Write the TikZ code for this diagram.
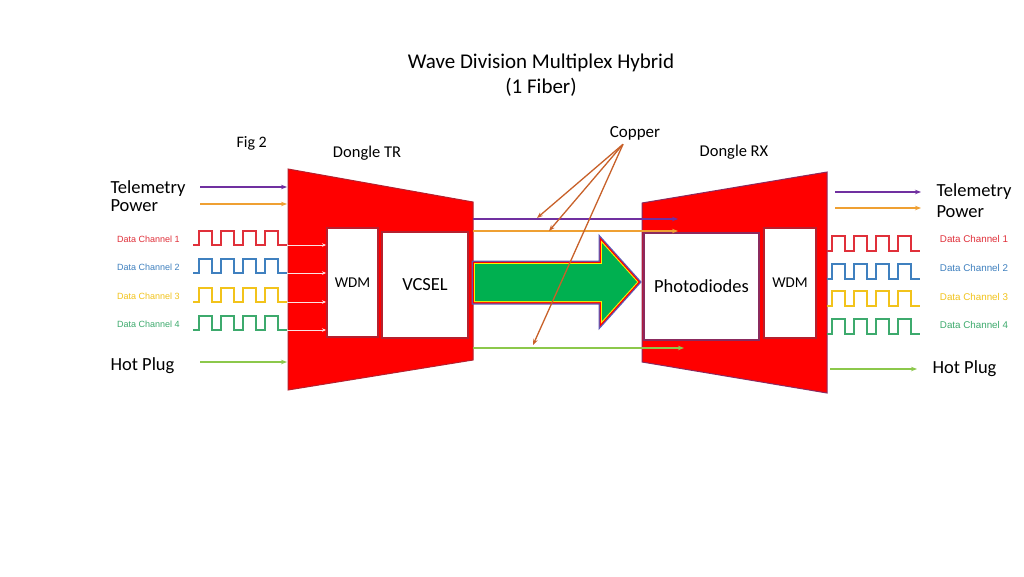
\documentclass[tikz,border=0pt]{standalone}
\usepackage{fontspec}
\setmainfont{Carlito}
\newfontfamily\arialfont{Liberation Sans}
\usetikzlibrary{arrows.meta}

\definecolor{dongred}{HTML}{FF0000}
\definecolor{boxedge}{HTML}{B5202E}
\definecolor{photoedge}{HTML}{8B2A5E}
\definecolor{telem}{HTML}{7030A0}
\definecolor{power}{HTML}{EFA033}
\definecolor{hotplug}{HTML}{8CC84B}
\definecolor{copper}{HTML}{C8612A}
\definecolor{chone}{HTML}{E0303A}
\definecolor{chtwo}{HTML}{3F80BF}
\definecolor{chthree}{HTML}{F2C31B}
\definecolor{chfour}{HTML}{3DAA6D}
\definecolor{fibergreen}{HTML}{00B050}
\definecolor{fiberblue}{HTML}{5E5AB8}
\definecolor{wirepink}{HTML}{FBE3E3}

\begin{document}
\begin{tikzpicture}[x=1pt, y=-1pt,
    boxnode/.style={draw=boxedge, line width=2pt, fill=white, inner sep=0pt},
    sig/.style={line width=1.4pt, -{Stealth[length=6pt, width=4.5pt]}},
    wave/.style={line width=1.2pt, line join=miter},
    chanlabel/.style={font=\arialfont\fontsize{9}{11}\selectfont},
    biglabel/.style={font=\fontsize{18.5}{22}\selectfont, anchor=base west},
    midlabel/.style={font=\fontsize{16.5}{20}\selectfont, anchor=base}]
    \useasboundingbox[fill=white] (0,0) rectangle (1024,576);

    % titles
    \node[font=\fontsize{21}{25}\selectfont, anchor=base] (title) at (541,68) {Wave Division Multiplex Hybrid};
    \node[font=\fontsize{21}{25}\selectfont, anchor=base] (subtitle) at (541,93) {(1 Fiber)};
    \node[font=\fontsize{16}{19}\selectfont, anchor=base west] (fig) at (233,147) {Fig 2};
    \node[midlabel] (dongtr) at (367,157) {Dongle TR};
    \node[midlabel] (dongrx) at (734,156) {Dongle RX};
    \node[midlabel, font=\fontsize{17}{20}\selectfont] (copper) at (635,137) {Copper};

    % dongles
    \draw[fill=dongred, draw=boxedge, line width=1pt] (288,169) coordinate (trTL) -- (473,202) coordinate (trTR)
        -- (473,360) coordinate (trBR) -- (288,390) coordinate (trBL) -- cycle;
    \draw[fill=dongred, draw=photoedge, line width=1pt] (642,203) coordinate (rxTL) -- (827,172) coordinate (rxTR)
        -- (827,393) coordinate (rxBR) -- (642,362) coordinate (rxBL) -- cycle;

    % fiber arrow
    \foreach \w/\c in {7/fiberblue, 4.5/dongred, 2/yellow}
        \draw[line width=\w pt, \c, line join=miter] (475,264) -- (602,264) -- (602,243) -- (637,282)
            -- (602,321) -- (602,301) -- (475,301) -- cycle;
    \fill[fibergreen] (475,264) -- (602,264) -- (602,243) -- (637,282) -- (602,321) -- (602,301) -- (475,301) -- cycle;

    % boxes
    \node[boxnode, minimum width=51pt, minimum height=109pt] (wdmL) at (352.5,282.5) {};
    \node[font=\fontsize{15}{18}\selectfont] at (wdmL) {WDM};
    \node[boxnode, minimum width=86pt, minimum height=106pt, font=\fontsize{18.5}{22}\selectfont] (vcsel) at (425,285) {VCSEL};
    \node[boxnode, draw=photoedge, minimum width=115pt, minimum height=107pt, font=\fontsize{18.5}{22}\selectfont] (photo) at (701.5,286.5) {Photodiodes};
    \node[boxnode, minimum width=52pt, minimum height=110pt] (wdmR) at (790,283) {};
    \node[font=\fontsize{15}{18}\selectfont] at (wdmR) {WDM};

    % left side inputs
    \node[biglabel] (telL) at (107,193) {Telemetry};
    \node[biglabel] (powL) at (107,211) {Power};
    \node[biglabel] (hotL) at (107,370) {Hot Plug};
    \coordinate (telLa) at (200,187); \coordinate (telLb) at (287,187);
    \coordinate (powLa) at (200,204); \coordinate (powLb) at (287,204);
    \coordinate (hotLa) at (200,362); \coordinate (hotLb) at (287,362);
    \draw[sig, telem] (telLa) -- (telLb);
    \draw[sig, power] (powLa) -- (powLb);
    \draw[sig, hotplug] (hotLa) -- (hotLb);

    \foreach \c/\y [count=\i] in {chone/245, chtwo/273, chthree/302, chfour/330} {
        \draw[wave, \c] (193,\y) -- ++(6,0) \foreach \p in {1,...,4} { -- ++(0,-14) -- ++(13,0) -- ++(0,14) -- ++(9,0) };
        \coordinate (inL\i) at (287,\y);
        \node[chanlabel, text=\c] (dcL\i) at (148.5,\y-6) {Data Channel \i};
        \draw[wirepink, line width=1pt, -{Stealth[length=4pt, width=3.5pt]}] (inL\i) -- (wdmL.west |- inL\i);
    }

    % copper between dongles
    \coordinate (telMa) at (473,219); \coordinate (telMb) at (678,219);
    \coordinate (powMa) at (473,231); \coordinate (powMb) at (678,231);
    \coordinate (hotMa) at (473,348); \coordinate (hotMb) at (684,348);
    \draw[sig, telem, line width=1.2pt] (telMa) -- (telMb);
    \draw[sig, power, line width=1.2pt] (powMa) -- (powMb);
    \draw[sig, hotplug, line width=1.2pt] (hotMa) -- (hotMb);

    % right side outputs
    \node[biglabel] (telR) at (933,196) {Telemetry};
    \node[biglabel] (powR) at (933,217) {Power};
    \node[biglabel] (hotR) at (929,373) {Hot Plug};
    \coordinate (telRa) at (835,192); \coordinate (telRb) at (921,192);
    \coordinate (powRa) at (835,208); \coordinate (powRb) at (921,208);
    \coordinate (hotRa) at (830,369); \coordinate (hotRb) at (917,369);
    \draw[sig, telem] (telRa) -- (telRb);
    \draw[sig, power] (powRa) -- (powRb);
    \draw[sig, hotplug] (hotRa) -- (hotRb);

    \foreach \c/\y/\ly [count=\i] in {chone/251/239, chtwo/279/268, chthree/306/297, chfour/334/325} {
        \draw[wave, \c] (827,\y) -- ++(5,0) \foreach \p in {1,...,4} { -- ++(0,-15) -- ++(13,0) -- ++(0,15) -- ++(9,0) };
        \node[chanlabel, font=\arialfont\fontsize{9.8}{11}\selectfont, text=\c] (dcR\i) at (974,\ly) {Data Channel \i};
    }

    % copper callouts
    \coordinate (cuA) at (537,218);
    \coordinate (cuB) at (549,231);
    \coordinate (cuC) at (533,345);
    \foreach \t in {cuA, cuB, cuC}
        \draw[copper, line width=1.3pt, -{Stealth[length=6pt, width=4.5pt]}] ([xshift=-12pt, yshift=-1pt]copper.south) -- (\t);
\end{tikzpicture}
\end{document}
